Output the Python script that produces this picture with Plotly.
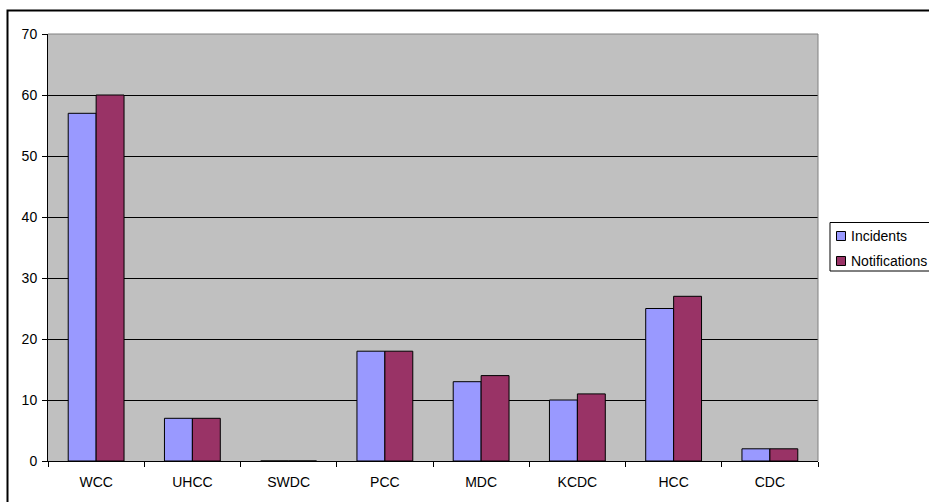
import plotly.graph_objects as go

categories = ["WCC", "UHCC", "SWDC", "PCC", "MDC", "KCDC", "HCC", "CDC"]
incidents = [57, 7, 0, 18, 13, 10, 25, 2]
notifications = [60, 7, 0, 18, 14, 11, 27, 2]
y_ticks = [0, 10, 20, 30, 40, 50, 60, 70]
series_names = ["Incidents", "Notifications"]
series_colors = ["#9999FF", "#993366"]

W, H = 929, 502
L, R, T, B = 48, 111, 34, 41
PW, PH = W - L - R, H - T - B


def px(x):
    return (x - L) / PW


def py(y):
    return (H - B - y) / PH


font = dict(family="Liberation Sans, Arial, sans-serif", size=14, color="black")

fig = go.Figure()
for name, vals, col in zip(series_names, [incidents, notifications], series_colors):
    fig.add_trace(go.Bar(name=name, x=categories, y=vals,
                         marker=dict(color=col, line=dict(color="black", width=1))))

shapes = [
    dict(type="line", xref="paper", yref="paper", x0=0, x1=1, y0=1, y1=1,
         line=dict(color="#808080", width=1)),
    dict(type="line", xref="paper", yref="paper", x0=1, x1=1, y0=0, y1=1,
         line=dict(color="#808080", width=1)),
    # outer chart border
    dict(type="rect", xref="paper", yref="paper", x0=px(7.5), x1=px(1000), y0=py(560), y1=py(10.5),
         line=dict(color="black", width=2)),
    # legend box
    dict(type="rect", xref="paper", yref="paper", x0=px(830), x1=px(1000), y0=py(271), y1=py(222.5),
         line=dict(color="black", width=1), fillcolor="white"),
]
annotations = []
for i, (name, col) in enumerate(zip(series_names, series_colors)):
    cy = 236 + i * 25
    shapes.append(dict(type="rect", xref="paper", yref="paper",
                       x0=px(836.5), x1=px(845.5), y0=py(cy + 4.5), y1=py(cy - 4.5),
                       line=dict(color="black", width=1), fillcolor=col))
    annotations.append(dict(text=name, xref="paper", yref="paper", x=px(849), y=py(cy),
                            xanchor="left", yanchor="middle", showarrow=False, font=font))

fig.update_layout(
    width=W, height=H,
    margin=dict(l=L, r=R, t=T, b=B, autoexpand=False),
    paper_bgcolor="white", plot_bgcolor="#C0C0C0",
    barmode="group", bargap=0.42, bargroupgap=0,
    font=font,
    showlegend=False,
    xaxis=dict(showline=True, linecolor="black", linewidth=1, ticks="outside",
               tickson="boundaries", ticklen=5, tickcolor="black", showgrid=False,
               tickfont=font, ticklabelstandoff=8),
    yaxis=dict(range=[0, 70], tickvals=y_ticks, showline=True, linecolor="black", linewidth=1,
               ticks="outside", ticklen=5, tickcolor="black", showgrid=True,
               gridcolor="black", gridwidth=1, zeroline=False, tickfont=font,
               ticklabelstandoff=2),
    shapes=shapes,
    annotations=annotations,
)

fig.write_html("out.html", config={"displayModeBar": False},
               post_script="document.body.style.margin='0';document.body.style.overflow='hidden';")
